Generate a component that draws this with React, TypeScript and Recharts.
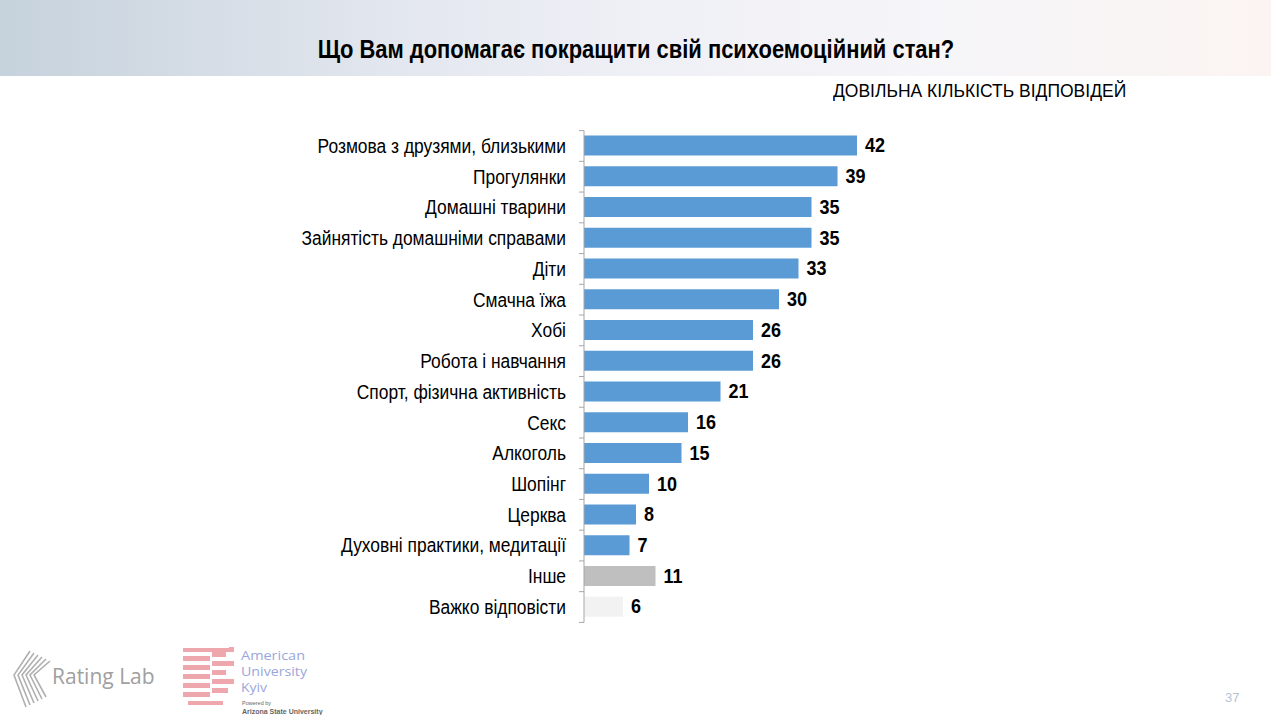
import React from "react";
import { BarChart, Bar, XAxis, YAxis, Cell, LabelList } from "recharts";

const categories = [
  "Розмова з друзями, близькими",
  "Прогулянки",
  "Домашні тварини",
  "Зайнятість домашніми справами",
  "Діти",
  "Смачна їжа",
  "Хобі",
  "Робота і навчання",
  "Спорт, фізична активність",
  "Секс",
  "Алкоголь",
  "Шопінг",
  "Церква",
  "Духовні практики, медитації",
  "Інше",
  "Важко відповісти",
];
const values = [42, 39, 35, 35, 33, 30, 26, 26, 21, 16, 15, 10, 8, 7, 11, 6];
const colors = [
  "#5b9bd5", "#5b9bd5", "#5b9bd5", "#5b9bd5", "#5b9bd5", "#5b9bd5", "#5b9bd5", "#5b9bd5",
  "#5b9bd5", "#5b9bd5", "#5b9bd5", "#5b9bd5", "#5b9bd5", "#5b9bd5", "#bfbfbf", "#f2f2f2",
];

const data = categories.map((c, i) => ({ name: c, value: values[i], color: colors[i] }));

const FONT = "'Liberation Sans', Arial, sans-serif";
const TOP = 130.6;
const BOTTOM = 622.4;
const BAND = (BOTTOM - TOP) / categories.length;
const AXIS_X = 584;

const Tick = (props: any) => {
  const { y, payload, index } = props;
  const isLast = index === categories.length - 1;
  return (
    <g>
      <line x1={AXIS_X - 5} x2={AXIS_X} y1={y - BAND / 2} y2={y - BAND / 2} stroke="#a6a6a6" />
      {isLast && <line x1={AXIS_X - 5} x2={AXIS_X} y1={y + BAND / 2} y2={y + BAND / 2} stroke="#a6a6a6" />}
      <g transform={`translate(${AXIS_X - 18},${y}) scale(0.87,1)`}>
        <text x={0} y={0} textAnchor="end" dominantBaseline="central" fontSize={20} fill="#000" fontFamily={FONT}>
          {payload.value}
        </text>
      </g>
    </g>
  );
};

const ValueLabel = (props: any) => {
  const { x, y, width, height, value } = props;
  return (
    <g transform={`translate(${x + width + 8},${y + height / 2}) scale(0.9,1)`}>
      <text x={0} y={0} dominantBaseline="central" fontSize={20} fontWeight="bold" fill="#000" fontFamily={FONT}>
        {value}
      </text>
    </g>
  );
};

const RatingLabLogo = () => (
  <svg width={160} height={70} style={{ position: "absolute", left: 8, top: 645 }}>
    {[0, 1, 2, 3, 4, 5].map((i) => (
      <polyline
        key={i}
        points={`${22 + i * 4},${6 + i * 2} ${6 + i * 4},${30} ${18 + i * 4},${62 - i * 2}`}
        fill="none"
        stroke="#b0b0b0"
        strokeWidth={1.6}
      />
    ))}
    <text x={44} y={39} fontSize={21} fill="#a0a0a0" fontFamily="'Open Sans', 'Liberation Sans', sans-serif">
      Rating Lab
    </text>
  </svg>
);

const AUK_FONT = "'Open Sans', 'Liberation Sans', sans-serif";

const AUKLogo = () => (
  <svg width={160} height={72} style={{ position: "absolute", left: 180, top: 644 }}>
    <rect x={3} y={4} width={28} height={4} fill="#eea7ad" />
    <rect x={31} y={4} width={19} height={4} fill="#eea7ad" />
    <rect x={49} y={3} width={5} height={5} fill="#eea7ad" />
    {[0, 1, 2, 3, 4].map((i) => (
      <g key={i}>
        <rect x={3} y={12 + i * 9} width={27} height={5} fill="#eea7ad" />
        <rect x={32} y={8 + i * 9} width={i === 4 ? 16 : 14 + (i % 2) * 8} height={5} fill="#eea7ad" />
      </g>
    ))}
    <rect x={8} y={57} width={35} height={4} fill="#eea7ad" />
    <text x={61} y={16} fontSize={12} textLength={64} lengthAdjust="spacingAndGlyphs" fill="#9aa6dc" fontFamily={AUK_FONT}>American</text>
    <text x={61} y={32} fontSize={12} textLength={66} lengthAdjust="spacingAndGlyphs" fill="#9aa6dc" fontFamily={AUK_FONT}>University</text>
    <text x={61} y={48} fontSize={12} textLength={26} lengthAdjust="spacingAndGlyphs" fill="#9aa6dc" fontFamily={AUK_FONT}>Kyiv</text>
    <text x={62} y={61} fontSize={5.5} fill="#666" fontFamily="'Liberation Sans', sans-serif">Powered by</text>
    <text x={62} y={70} fontSize={7} fill="#666" fontWeight="bold" fontFamily="'Liberation Sans', sans-serif">Arizona State University</text>
  </svg>
);

export default function App() {
  return (
    <div style={{ position: "absolute", left: 0, top: 0, width: 1271, height: 715, background: "#fff", overflow: "hidden" }}>
      <div
        style={{
          position: "absolute",
          left: 0,
          top: 0,
          width: 1271,
          height: 76,
          background: "linear-gradient(90deg, #c6d2dc 0%, #e2e6ee 30%, #eff0f6 50%, #f6f5f8 75%, #fbf4f2 100%)",
        }}
      />
      <div
        style={{
          position: "absolute",
          left: 0,
          top: 34,
          width: 1271,
          textAlign: "center",
          fontFamily: FONT,
          fontWeight: "bold",
          fontSize: 25,
          color: "#000",
          lineHeight: "30px",
        }}
      >
        <span style={{ display: "inline-block", transform: "scaleX(0.877)", whiteSpace: "nowrap" }}>
          Що Вам допомагає покращити свій психоемоційний стан?
        </span>
      </div>
      <div
        style={{
          position: "absolute",
          left: 833,
          top: 79,
          fontFamily: FONT,
          fontSize: 19,
          color: "#000",
          lineHeight: "24px",
          whiteSpace: "nowrap",
          transform: "scaleX(0.92)",
          transformOrigin: "left center",
        }}
      >
        ДОВІЛЬНА КІЛЬКІСТЬ ВІДПОВІДЕЙ
      </div>
      <div style={{ position: "absolute", left: 0, top: 0 }}>
        <BarChart
          width={1271}
          height={715}
          data={data}
          layout="vertical"
          margin={{ top: TOP, bottom: 715 - BOTTOM, left: 0, right: 1271 - 909 }}
          barSize={20}
        >
          <XAxis type="number" domain={[0, 50]} hide />
          <YAxis
            type="category"
            dataKey="name"
            width={AXIS_X}
            axisLine={{ stroke: "#a6a6a6" }}
            tickLine={false}
            tick={<Tick />}
            interval={0}
          />
          <Bar dataKey="value" isAnimationActive={false}>
            {data.map((d, i) => (
              <Cell key={i} fill={d.color} />
            ))}
            <LabelList dataKey="value" content={<ValueLabel />} />
          </Bar>
        </BarChart>
      </div>
      <RatingLabLogo />
      <AUKLogo />
      <div
        style={{
          position: "absolute",
          left: 1225,
          top: 690,
          fontSize: 13,
          color: "#b4c4d4",
          fontFamily: "'Liberation Sans', Arial, sans-serif",
        }}
      >
        37
      </div>
    </div>
  );
}
